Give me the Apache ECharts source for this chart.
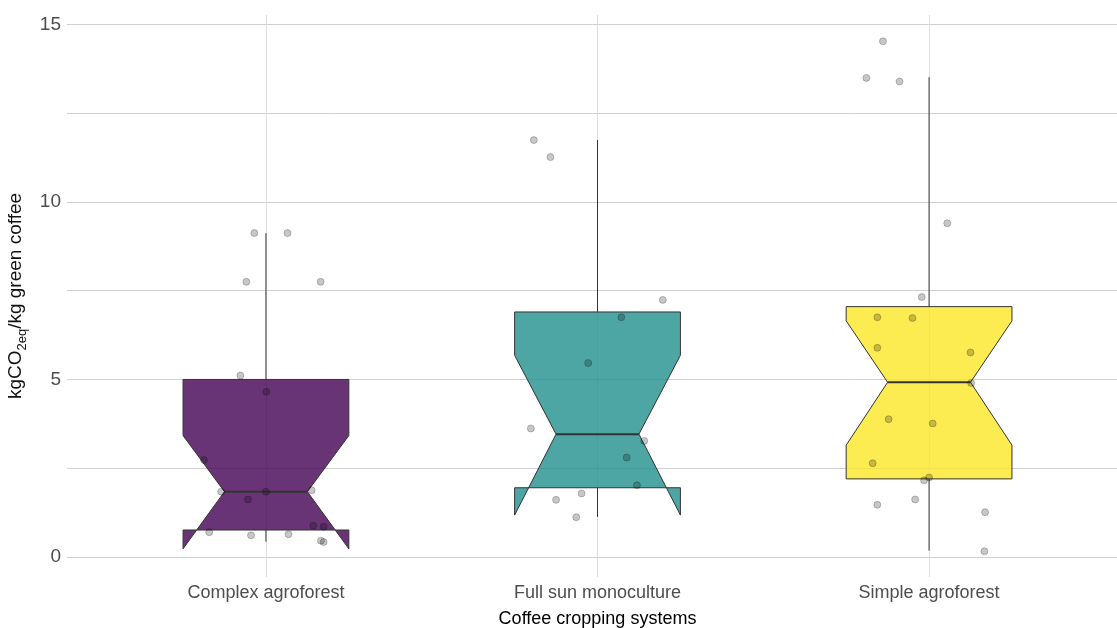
<!DOCTYPE html>
<html>
<head>
<meta charset="utf-8">
<script src="https://cdn.jsdelivr.net/npm/echarts@6/dist/echarts.min.js"></script>
<style>
html,body{margin:0;padding:0;background:#fff;}
#chart{width:1117px;height:628px;}
</style>
</head>
<body>
<div id="chart"></div>
<script>
// ---- data ----
const categories = ['Complex agroforest', 'Full sun monoculture', 'Simple agroforest'];
const boxColors = ['rgba(68,1,84,0.8)', 'rgba(33,144,140,0.8)', 'rgba(253,231,37,0.8)'];
// [lowerWhisker, Q1, notchLow, median, notchHigh, Q3, upperWhisker]
const boxComplex = [0.43, 0.76, 0.23, 1.84, 3.42, 5.00, 9.12];
const boxFullSun = [1.13, 1.95, 1.18, 3.46, 5.68, 6.90, 11.74];
const boxSimple  = [0.18, 2.20, 3.15, 4.92, 6.65, 7.05, 13.51];
// jittered observations: horizontal jitter (category units) and value
const jitterComplex = [-0.035, 0.065, -0.059, 0.165, -0.077, 0.001, -0.187, -0.135, 0.000, 0.138, -0.054, -0.171, -0.045, 0.068, 0.143, 0.174, 0.166, 0.174];
const valuesComplex = [9.12, 9.12, 7.75, 7.75, 5.11, 4.65, 2.73, 1.84, 1.84, 1.88, 1.62, 0.70, 0.61, 0.64, 0.88, 0.85, 0.46, 0.42];
const jitterFullSun = [-0.192, -0.142, 0.197, 0.072, -0.028, -0.201, 0.141, 0.088, 0.119, -0.048, -0.125, -0.064];
const valuesFullSun = [11.74, 11.26, 7.24, 6.75, 5.46, 3.62, 3.27, 2.80, 2.02, 1.79, 1.61, 1.12];
const jitterSimple = [-0.139, -0.189, -0.089, 0.055, -0.022, -0.156, -0.050, -0.156, 0.125, 0.127, -0.122, 0.011, -0.170, 0.000, -0.015, -0.156, -0.042, 0.169, 0.167];
const valuesSimple = [14.52, 13.49, 13.39, 9.40, 7.32, 6.75, 6.73, 5.89, 5.76, 4.90, 3.88, 3.76, 2.64, 2.24, 2.16, 1.47, 1.62, 1.26, 0.16];
const yTicks = [0, 5, 10, 15];
const yGrid = [0, 2.5, 5, 7.5, 10, 12.5, 15];

const boxes = [boxComplex, boxFullSun, boxSimple];
const jitters = [jitterComplex, jitterFullSun, jitterSimple];
const values = [valuesComplex, valuesFullSun, valuesSimple];

const boxData = boxes.map((b, i) => [i + 1].concat(b));
const pointData = [];
values.forEach((vals, i) => {
  vals.forEach((v, k) => pointData.push([i + 1 + jitters[i][k], v]));
});

const BOX_HALF = 0.25, NOTCH_HALF = 0.125;
const LINE = '#333333';

function renderBox(params, api) {
  const x = api.value(0);
  const lw = api.value(1), q1 = api.value(2), nl = api.value(3), med = api.value(4),
        nu = api.value(5), q3 = api.value(6), uw = api.value(7);
  const c = (xx, yy) => api.coord([xx, yy]);
  const fill = boxColors[params.dataIndex];
  const poly = [
    c(x - BOX_HALF, q3), c(x + BOX_HALF, q3), c(x + BOX_HALF, nu), c(x + NOTCH_HALF, med),
    c(x + BOX_HALF, nl), c(x + BOX_HALF, q1), c(x - BOX_HALF, q1), c(x - BOX_HALF, nl),
    c(x - NOTCH_HALF, med), c(x - BOX_HALF, nu)
  ];
  const top = c(x, uw), q3p = c(x, q3), q1p = c(x, q1), bot = c(x, lw);
  const mL = c(x - NOTCH_HALF, med), mR = c(x + NOTCH_HALF, med);
  return {
    type: 'group',
    children: [
      { type: 'line', shape: { x1: top[0], y1: top[1], x2: q3p[0], y2: q3p[1] }, style: { stroke: LINE, lineWidth: 1 } },
      { type: 'line', shape: { x1: q1p[0], y1: q1p[1], x2: bot[0], y2: bot[1] }, style: { stroke: LINE, lineWidth: 1 } },
      { type: 'polygon', shape: { points: poly }, style: { fill: fill, stroke: LINE, lineWidth: 1 } },
      { type: 'line', shape: { x1: mL[0], y1: mL[1], x2: mR[0], y2: mR[1] }, style: { stroke: LINE, lineWidth: 2 } }
    ]
  };
}

const chart = echarts.init(document.getElementById('chart'), null, { renderer: 'canvas' });
chart.setOption({
  backgroundColor: '#ffffff',
  animation: false,
  grid: { left: 67, right: -11, top: 15, bottom: 51, containLabel: false, outerBoundsMode: 'none' },
  xAxis: {
    type: 'value', min: 0.4, max: 3.6,
    axisLine: { show: false },
    axisTick: { show: false, customValues: [1, 2, 3] },
    splitLine: { show: true, lineStyle: { color: '#dedede', width: 1 } },
    axisLabel: {
      customValues: [1, 2, 3],
      formatter: v => categories[Math.round(v) - 1],
      color: '#4d4d4d', fontSize: 18, fontFamily: 'Liberation Sans', margin: 7
    },
    name: 'Coffee cropping systems', nameLocation: 'middle', nameGap: 33,
    nameTextStyle: { color: '#000000', fontSize: 18, fontFamily: 'Liberation Sans' }
  },
  yAxis: {
    type: 'value', min: -0.563, max: 15.262,
    axisLine: { show: false },
    axisTick: { show: false, customValues: yGrid },
    splitLine: { show: true, lineStyle: { color: '#d0d0d0', width: 1 } },
    axisLabel: {
      customValues: yTicks,
      color: '#4d4d4d', fontSize: 19, fontFamily: 'Liberation Sans', margin: 6
    },
    name: '{a|kgCO}{s|2eq}{a|/kg green coffee}', nameLocation: 'middle', nameGap: 33, nameRotate: 90,
    nameTextStyle: {
      color: '#111111', fontFamily: 'Liberation Sans',
      rich: {
        a: { fontSize: 19, color: '#111111', fontFamily: 'Liberation Sans', lineHeight: 26, verticalAlign: 'middle' },
        s: { fontSize: 13, color: '#111111', fontFamily: 'Liberation Sans', lineHeight: 26, verticalAlign: 'bottom', padding: [10, 0, 0, 0] }
      }
    }
  },
  series: [
    { type: 'custom', renderItem: renderBox, data: boxData, encode: { x: 0, y: [1, 7] }, z: 2, clip: false },
    {
      type: 'scatter', data: pointData, symbol: 'circle', symbolSize: 7, z: 3,
      itemStyle: { color: 'rgba(0,0,0,0.22)', borderColor: 'rgba(0,0,0,0.28)', borderWidth: 0.8, opacity: 1 }
    }
  ]
});
</script>
</body>
</html>
